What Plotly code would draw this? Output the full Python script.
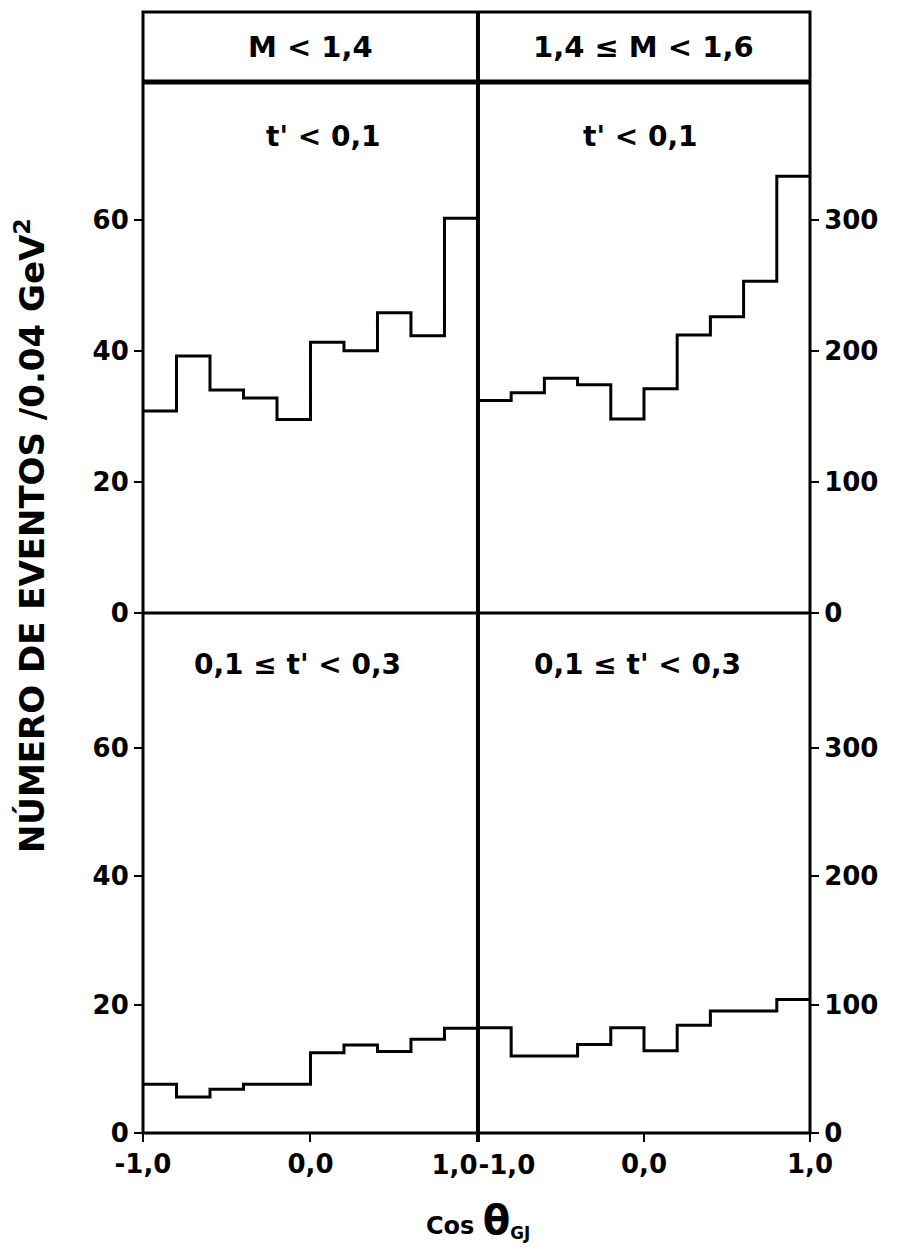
import plotly.graph_objects as go

# ---------------- data ----------------
bin_edges = [-1.0, -0.8, -0.6, -0.4, -0.2, 0.0, 0.2, 0.4, 0.6, 0.8, 1.0]

# top row: t' < 0,1
top_left_counts = [30.8, 39.2, 34.0, 32.8, 29.5, 41.3, 40.0, 45.8, 42.3, 60.2]      # M < 1,4 (left scale)
top_right_counts = [162, 168, 179, 174, 148, 171, 212, 226, 253, 333]              # 1,4 <= M < 1,6 (right scale)

# bottom row: 0,1 <= t' < 0,3
bottom_left_counts = [7.6, 5.6, 6.8, 7.6, 7.6, 12.5, 13.7, 12.7, 14.6, 16.3]
bottom_right_counts = [82, 60, 60, 69, 82, 64, 84, 95, 95, 104]

left_ticks = [0, 20, 40, 60]
right_ticks = [0, 100, 200, 300]
x_ticks_left = [-1.0, 0.0]
x_ticktext_left = ["-1,0", "0,0"]
x_ticks_right = [0.0, 1.0]
x_ticktext_right = ["0,0", "1,0"]
mid_tick_left = [1.0]
mid_text_left = ["1,0"]
mid_tick_right = [-1.0]
mid_text_right = ["-1,0"]

col_titles = ["M < 1,4", "1,4 ≤ M < 1,6"]
row_labels = ["t' < 0,1", "0,1 ≤ t' < 0,3"]

# ---------------- layout geometry ----------------
W, H = 901, 1252
ML, MR, MT, MB = 143, 91, 12, 119
xmid = 0.5022
ymid = 0.4639
ytop = 0.9376
left_range = [0, 81]
right_range = [0, 405]

FONT = "DejaVu Sans"
INK = "black"

fig = go.Figure()


def step_xy(vals):
    return bin_edges, list(vals) + [vals[-1]]


panels = [
    (top_left_counts, "x", "y"),
    (top_right_counts, "x2", "y2"),
    (bottom_left_counts, "x3", "y3"),
    (bottom_right_counts, "x4", "y4"),
]
for vals, xa, ya in panels:
    xs, ys = step_xy(vals)
    fig.add_trace(go.Scatter(x=xs, y=ys, mode="lines", line=dict(shape="hv", color=INK, width=3),
                             xaxis=xa, yaxis=ya, showlegend=False, hoverinfo="skip"))

# invisible helpers so the overlay axes (middle tick labels) are drawn
fig.add_trace(go.Scatter(x=mid_tick_left, y=[None], mode="lines", xaxis="x5", yaxis="y3",
                         showlegend=False, hoverinfo="skip"))
fig.add_trace(go.Scatter(x=mid_tick_right, y=[None], mode="lines", xaxis="x6", yaxis="y4",
                         showlegend=False, hoverinfo="skip"))

tickfont = dict(family=FONT, size=26, color=INK, weight="bold")

common_x = dict(range=[-1, 1], showgrid=False, zeroline=False, showline=False, fixedrange=True)
common_y = dict(showgrid=False, zeroline=False, showline=False, fixedrange=True,
                ticks="outside", ticklen=8, tickwidth=2, tickcolor=INK, tickfont=tickfont)

fig.update_layout(
    width=W, height=H,
    margin=dict(l=ML, r=MR, t=MT, b=MB),
    paper_bgcolor="white", plot_bgcolor="white",
    showlegend=False,
    # top-left
    xaxis=dict(domain=[0, xmid], anchor="y", showticklabels=False, ticks="", **common_x),
    yaxis=dict(domain=[ymid, ytop], anchor="x", range=left_range, tickvals=left_ticks, side="left", **common_y),
    # top-right
    xaxis2=dict(domain=[xmid, 1], anchor="y2", showticklabels=False, ticks="", **common_x),
    yaxis2=dict(domain=[ymid, ytop], anchor="x2", range=right_range, tickvals=right_ticks, side="right", **common_y),
    # bottom-left
    xaxis3=dict(domain=[0, xmid], anchor="y3", tickvals=x_ticks_left, ticktext=x_ticktext_left,
                ticks="outside", ticklen=8, tickwidth=2, tickcolor=INK, tickfont=tickfont, **common_x),
    yaxis3=dict(domain=[0, ymid], anchor="x3", range=left_range, tickvals=left_ticks, side="left", **common_y),
    # bottom-right
    xaxis4=dict(domain=[xmid, 1], anchor="y4", tickvals=x_ticks_right, ticktext=x_ticktext_right,
                ticks="outside", ticklen=8, tickwidth=2, tickcolor=INK, tickfont=tickfont, **common_x),
    yaxis4=dict(domain=[0, ymid], anchor="x4", range=right_range, tickvals=right_ticks, side="right", **common_y),
    # overlay axes carrying the two tick labels at the shared middle edge
    xaxis5=dict(overlaying="x3", anchor="y3", side="bottom", tickvals=mid_tick_left, ticktext=mid_text_left,
                ticks="outside", ticklen=8, tickcolor="rgba(0,0,0,0)", ticklabelposition="outside left",
                ticklabelstandoff=9, tickfont=tickfont, **common_x),
    xaxis6=dict(overlaying="x4", anchor="y4", side="bottom", tickvals=mid_tick_right, ticktext=mid_text_right,
                ticks="outside", ticklen=8, tickcolor="rgba(0,0,0,0)", ticklabelposition="outside right",
                ticklabelstandoff=9, tickfont=tickfont, **common_x),
)

# frame lines
shapes = [
    dict(type="rect", xref="paper", yref="paper", x0=0, x1=1, y0=0, y1=1, line=dict(color=INK, width=3)),
    dict(type="line", xref="paper", yref="paper", x0=0, x1=1, y0=ytop, y1=ytop, line=dict(color=INK, width=5)),
    dict(type="line", xref="paper", yref="paper", x0=0, x1=1, y0=ymid, y1=ymid, line=dict(color=INK, width=3)),
    dict(type="line", xref="paper", yref="paper", x0=xmid, x1=xmid, y0=-0.008, y1=1, line=dict(color=INK, width=4)),
]
fig.update_layout(shapes=shapes)

ann = []
hdr_font = dict(family=FONT, size=29, color=INK, weight="bold")
ann.append(dict(text=col_titles[0], xref="paper", yref="paper", x=xmid / 2, y=(ytop + 1) / 2,
                showarrow=False, font=hdr_font, xanchor="center", yanchor="middle"))
ann.append(dict(text=col_titles[1], xref="paper", yref="paper", x=(xmid + 1) / 2, y=(ytop + 1) / 2,
                showarrow=False, font=hdr_font, xanchor="center", yanchor="middle"))

lab_font = dict(family=FONT, size=28, color=INK, weight="bold")
ann.append(dict(text=row_labels[0], xref="x domain", yref="y domain", x=0.54, y=0.898,
                showarrow=False, font=lab_font, xanchor="center", yanchor="middle"))
ann.append(dict(text=row_labels[0], xref="x2 domain", yref="y2 domain", x=0.49, y=0.898,
                showarrow=False, font=lab_font, xanchor="center", yanchor="middle"))
ann.append(dict(text=row_labels[1], xref="x3 domain", yref="y3 domain", x=0.46, y=0.9,
                showarrow=False, font=lab_font, xanchor="center", yanchor="middle"))
ann.append(dict(text=row_labels[1], xref="x4 domain", yref="y4 domain", x=0.48, y=0.9,
                showarrow=False, font=lab_font, xanchor="center", yanchor="middle"))

# axis titles
ann.append(dict(text="NÚMERO DE EVENTOS /0.04 GeV<sup>2</sup>", xref="paper", yref="paper",
                x=-0.17, y=0.533, textangle=-90, showarrow=False,
                font=dict(family=FONT, size=34, color=INK, weight="bold"),
                xanchor="center", yanchor="middle"))
ann.append(dict(text="Cos <span style='font-size:40px'>θ</span><sub>GJ</sub>", xref="paper", yref="paper",
                x=xmid, y=-0.078, showarrow=False,
                font=dict(family=FONT, size=24, color=INK, weight="bold"),
                xanchor="center", yanchor="middle"))
fig.update_layout(annotations=ann)

fig.write_html("out.html")
